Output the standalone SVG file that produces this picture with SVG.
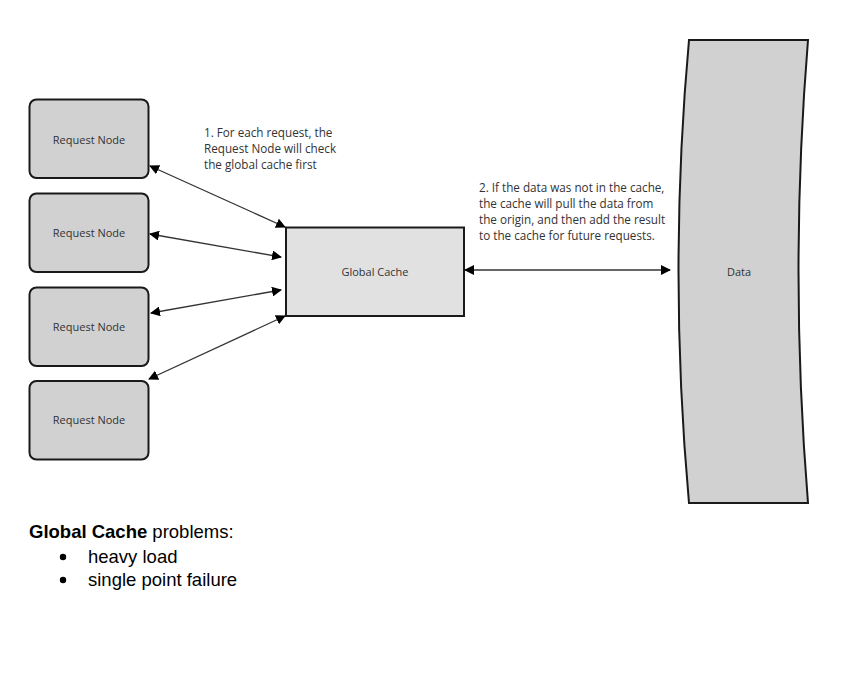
<svg xmlns="http://www.w3.org/2000/svg" width="863" height="678" viewBox="0 0 863 678">
<style>
.node{fill:#d1d1d1;stroke:#1a1a1a;stroke-width:2}
.cache{fill:#e1e1e1;stroke:#1a1a1a;stroke-width:2}
.lbl{font-family:"Open Sans","DejaVu Sans",sans-serif;font-size:11px;fill:#333}
.note{font-family:"Open Sans","DejaVu Sans",sans-serif;font-size:11.7px;fill:#333}
.edge{stroke:#333;stroke-width:1.3;fill:none;marker-start:url(#ah);marker-end:url(#ah)}
.doc{font-family:"Liberation Sans",Arial,sans-serif;font-size:18.5px;fill:#000}
</style>
<defs>
<marker id="ah" viewBox="0 0 10 10" refX="9" refY="5" markerWidth="10" markerHeight="10" markerUnits="userSpaceOnUse" orient="auto-start-reverse">
<path d="M0,0 L10,5 L0,10 z" fill="#000"/>
</marker>
</defs>
<rect width="863" height="678" fill="#fff"/>
<g id="node1"><rect class="node" x="29.5" y="99.5" width="119" height="78.5" rx="7"/><text class="lbl" x="89" y="144" text-anchor="middle">Request Node</text></g>
<g id="node2"><rect class="node" x="29.5" y="193.5" width="119" height="78.5" rx="7"/><text class="lbl" x="89" y="237" text-anchor="middle">Request Node</text></g>
<g id="node3"><rect class="node" x="29.5" y="287.5" width="119" height="78.5" rx="7"/><text class="lbl" x="89" y="331" text-anchor="middle">Request Node</text></g>
<g id="node4"><rect class="node" x="29.5" y="381" width="119" height="78.5" rx="7"/><text class="lbl" x="89" y="424" text-anchor="middle">Request Node</text></g>
<g id="cache"><rect class="cache" x="286" y="227.5" width="178" height="88.5"/><text class="lbl" x="375" y="276" text-anchor="middle">Global Cache</text></g>
<g id="data"><path class="node" d="M689,40 L808,40 Q789,271 808,503 L689,503 Q668,271 689,40 Z"/><text class="lbl" x="739" y="276" text-anchor="middle">Data</text></g>
<g id="connectors">
<line class="edge" x1="150" y1="166" x2="285" y2="227"/>
<line class="edge" x1="150" y1="234" x2="281" y2="257"/>
<line class="edge" x1="151" y1="313" x2="281" y2="290"/>
<line class="edge" x1="149" y1="379" x2="285" y2="316"/>
<line class="edge" x1="465" y1="270" x2="670" y2="270"/>
</g>
<g id="notes">
<text class="note" x="204" y="137">1. For each request, the</text>
<text class="note" x="204" y="153">Request Node will check</text>
<text class="note" x="204" y="169">the global cache first</text>
<text class="note" x="479" y="192">2. If the data was not in the cache,</text>
<text class="note" x="479" y="208">the cache will pull the data from</text>
<text class="note" x="479" y="224">the origin, and then add the result</text>
<text class="note" x="479" y="240">to the cache for future requests.</text>
</g>
<g id="problems">
<text class="doc" x="29" y="538"><tspan font-weight="bold">Global Cache</tspan> problems:</text>
<circle cx="63" cy="557" r="3.2" fill="#000"/>
<text class="doc" x="88" y="563">heavy load</text>
<circle cx="63" cy="580" r="3.2" fill="#000"/>
<text class="doc" x="88" y="586">single point failure</text>
</g>
</svg>
